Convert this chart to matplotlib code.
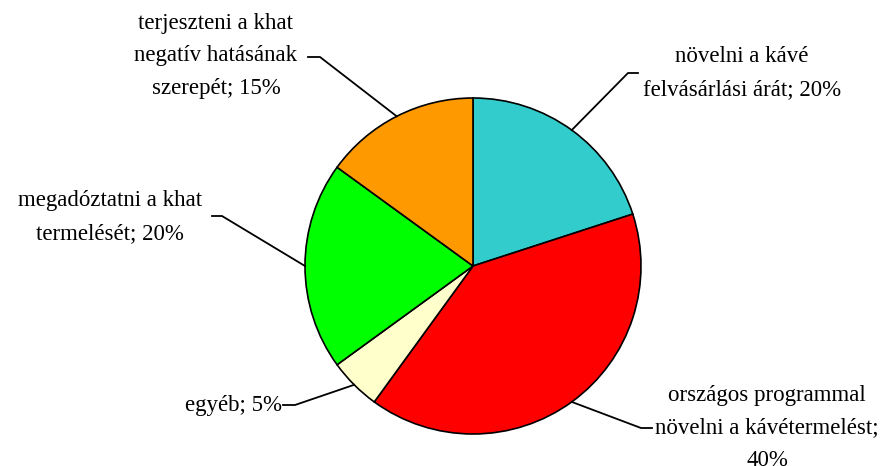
import numpy as np
import matplotlib.pyplot as plt

labels = [
    "növelni a kávé\nfelvásárlási árát; 20%",
    "országos programmal\nnövelni a kávétermelést;\n40%",
    "egyéb; 5%",
    "megadóztatni a khat\ntermelését; 20%",
    "terjeszteni a khat\nnegatív hatásának\nszerepét; 15%",
]
values = [20, 40, 5, 20, 15]
colors = ["#33CCCC", "#FF0000", "#FFFFCC", "#00FF00", "#FF9900"]

W, H = 893, 466
fig = plt.figure(figsize=(W / 100, H / 100), dpi=100)
ax = fig.add_axes([0, 0, 1, 1])

cx, cy, r = 473, H - 266, 168
wedges, _ = ax.pie(values, colors=colors, startangle=90, counterclock=False,
                   center=(cx, cy), radius=r, frame=True,
                   wedgeprops=dict(edgecolor="black", linewidth=1.2))
ax.set_xlim(0, W)
ax.set_ylim(0, H)
ax.set_aspect("equal")
ax.axis("off")

# elbow (x, y from top), end of horizontal tick x, text x, text centre y from top, ha
layout = [
    (628, 73, 638, 742, 73, "center"),
    (641, 428, 652, 767, 428, "center"),
    (295, 405, 283, 282, 406, "right"),
    (222, 216, 212, 110, 217, "center"),
    (320, 57, 308, 216, 56, "center"),
]

font = dict(family="Liberation Serif", fontsize=16.5, linespacing=1.72)
for w, lab, (ex, ey, tx, txx, tty, ha) in zip(wedges, labels, layout):
    ang = np.deg2rad((w.theta1 + w.theta2) / 2)
    px, py = cx + r * np.cos(ang), cy + r * np.sin(ang)
    ax.plot([px, ex, tx], [py, H - ey, H - ey], color="black", lw=1.3)
    ax.text(txx, H - tty, lab, ha=ha, va="center", multialignment="center", **font)

fig.savefig("out.png", dpi=100)
